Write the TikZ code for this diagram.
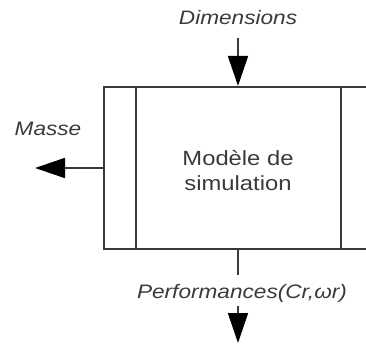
\documentclass[tikz,border=0pt]{standalone}
\usepackage{fontspec}
\setmainfont{Liberation Sans}
\newfontfamily\lblfont{Liberation Sans}[FakeStretch=1.16]
\usetikzlibrary{arrows.meta}
\definecolor{ink}{HTML}{3A3A3A}
\tikzset{
  wire/.style={draw=ink, line width=1.7pt},
  flow/.style={wire, -{Triangle[length=30pt,width=20pt,color=black]}},
  lbl/.style={text=ink, font=\lblfont\fontsize{19.5}{22}\selectfont\itshape, inner sep=0pt},
  centre/.style={text=ink, font=\lblfont\fontsize{20.5}{25}\selectfont, align=center, inner sep=0pt},
}
\begin{document}
\begin{tikzpicture}[x=1pt,y=-1pt]
\useasboundingbox (0,0) rectangle (366,347);
\clip (0,0) rectangle (366,347);
\node (box) [wire, rectangle, minimum width=280pt, minimum height=162pt, anchor=north west, inner sep=0pt] at (103,86) {};
\coordinate (il1) at (136,86); \coordinate (il2) at (136,248);
\coordinate (ir1) at (341,86); \coordinate (ir2) at (341,248);
\draw[wire] (il1) -- (il2);
\draw[wire] (ir1) -- (ir2);
\node (model) [centre] at (238,171) {Modèle de\\simulation};
\node (dim) [lbl] at (238,18) {Dimensions};
\coordinate (dimstart) at (238,38);
\coordinate (dimend) at (238,86);
\draw[flow] (dimstart) -- (dimend);
\node (masse) [lbl] at (48,129) {Masse};
\coordinate (masseout) at (103,168);
\coordinate (masseend) at (35,168);
\draw[flow] (masseout) -- (masseend);
\coordinate (perfstart) at (238,248);
\coordinate (perfmid) at (238,275);
\draw[wire] (perfstart) -- (perfmid);
\node (perf) [lbl] at (242,293) {Performances(Cr,ωr)};
\coordinate (perfa) at (238,306);
\coordinate (perfb) at (238,343);
\draw[flow] (perfa) -- (perfb);
\end{tikzpicture}
\end{document}
